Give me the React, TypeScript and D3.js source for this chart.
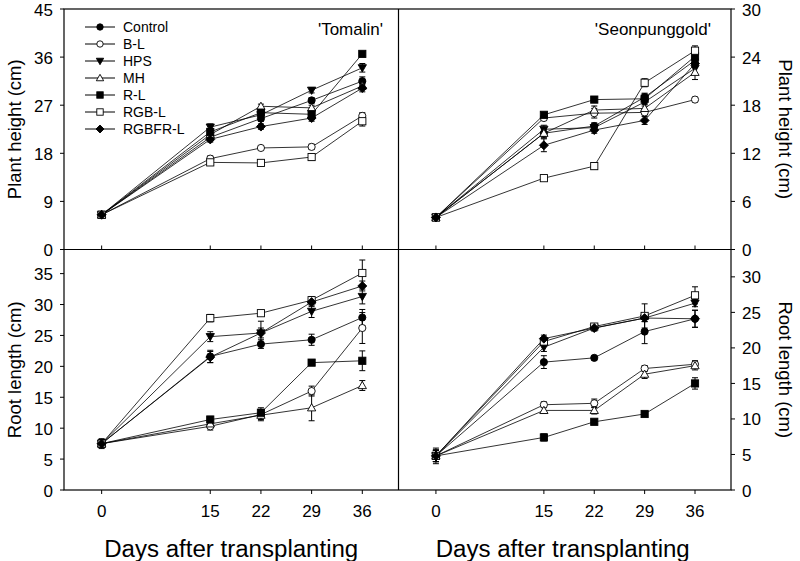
import React from "react";
import * as d3 from "d3";

const DAYS = [0, 15, 22, 29, 36];
const SERIES = ["Control", "B-L", "HPS", "MH", "R-L", "RGB-L", "RGBFR-L"];
const MARKERS = ["circleF", "circleO", "triDownF", "triUpO", "squareF", "squareO", "diamondF"];

// 'Tomalin' plant height (cm)
const tomHeight = [
  [6.5, 21.0, 24.5, 27.9, 31.5],
  [6.5, 17.0, 19.0, 19.2, 25.0],
  [6.5, 22.9, 25.2, 29.8, 34.0],
  [6.5, 21.5, 26.8, 26.5, 30.6],
  [6.5, 22.0, 25.6, 25.3, 36.6],
  [6.5, 16.3, 16.2, 17.3, 24.0],
  [6.5, 20.6, 23.0, 24.6, 30.2],
];
const tomHeightErr = [
  [0.4, 0.6, 0.5, 0.5, 0.8],
  [0.3, 0.5, 0.4, 0.5, 0.6],
  [0.3, 0.6, 0.5, 0.5, 0.8],
  [0.3, 0.8, 0.4, 0.5, 0.7],
  [0.3, 0.6, 0.6, 1.0, 0.4],
  [0.3, 0.4, 0.4, 0.6, 0.9],
  [0.3, 0.5, 0.5, 0.6, 0.7],
];

// 'Seonpunggold' plant height (cm)
const seoHeight = [
  [4.0, 14.5, 15.4, 19.0, 23.6],
  [4.0, 16.4, 17.0, 17.1, 18.7],
  [4.0, 15.0, 15.2, 18.4, 22.6],
  [4.0, 14.5, 17.4, 17.6, 22.1],
  [4.0, 16.8, 18.7, 18.8, 24.1],
  [4.0, 8.9, 10.4, 20.8, 24.8],
  [4.0, 13.0, 14.9, 16.1, 23.2],
];
const seoHeightErr = [
  [0.2, 0.6, 0.4, 0.5, 0.5],
  [0.2, 0.3, 0.6, 0.3, 0.3],
  [0.2, 0.5, 0.4, 0.5, 0.6],
  [0.2, 0.5, 0.5, 0.5, 0.9],
  [0.2, 0.3, 0.3, 0.6, 0.5],
  [0.2, 0.3, 0.4, 0.5, 0.6],
  [0.2, 0.8, 0.4, 0.5, 0.5],
];

// 'Tomalin' root length (cm)
const tomRoot = [
  [7.5, 21.6, 23.6, 24.3, 27.9],
  [7.5, 10.3, 12.2, 16.0, 26.2],
  [7.5, 24.8, 25.4, 28.9, 31.3],
  [7.5, 10.7, 12.1, 13.3, 16.9],
  [7.5, 11.4, 12.5, 20.6, 20.9],
  [7.5, 27.8, 28.6, 30.7, 35.1],
  [7.5, 21.5, 25.4, 30.4, 33.0],
];
const tomRootErr = [
  [0.8, 1.0, 0.7, 0.9, 1.3],
  [0.6, 0.6, 0.8, 0.8, 2.5],
  [0.6, 0.8, 1.9, 1.0, 1.2],
  [0.6, 0.6, 0.9, 2.1, 0.8],
  [0.6, 0.5, 0.8, 0.3, 1.6],
  [0.6, 0.6, 0.3, 0.6, 2.1],
  [0.6, 0.9, 0.8, 0.7, 0.8],
];

// 'Seonpunggold' root length (cm)
const seoRoot = [
  [4.8, 18.0, 18.6, 22.3, 24.1],
  [4.8, 12.0, 12.2, 17.1, 17.7],
  [4.8, 20.1, 22.8, 24.2, 26.3],
  [4.8, 11.2, 11.2, 16.3, 17.5],
  [4.8, 7.4, 9.6, 10.7, 15.0],
  [4.8, 20.9, 23.0, 24.5, 27.4],
  [4.8, 21.3, 22.8, 24.2, 24.1],
];
const seoRootErr = [
  [1.1, 0.9, 0.3, 1.7, 1.2],
  [0.8, 0.4, 0.6, 0.4, 0.5],
  [0.8, 0.6, 0.4, 0.5, 0.5],
  [0.8, 0.4, 0.5, 0.6, 0.6],
  [0.8, 0.5, 0.3, 0.3, 0.8],
  [0.8, 0.4, 0.4, 1.7, 1.2],
  [0.8, 0.5, 0.4, 0.5, 1.2],
];

const TOM_HEIGHT_TICKS = [0, 9, 18, 27, 36, 45];
const SEO_HEIGHT_TICKS = [0, 6, 12, 18, 24, 30];
const TOM_ROOT_TICKS = [0, 5, 10, 15, 20, 25, 30, 35];
const SEO_ROOT_TICKS = [0, 5, 10, 15, 20, 25, 30];

const FONT = "'Liberation Sans', Arial, sans-serif";

function Marker({ type, x, y, r = 3.6 }: { type: string; x: number; y: number; r?: number }) {
  const filled = type.endsWith("F");
  const fill = filled ? "#000" : "#fff";
  const common = { fill, stroke: "#000", strokeWidth: 0.9 };
  if (type.startsWith("circle")) return <circle cx={x} cy={y} r={r} {...common} />;
  if (type.startsWith("square"))
    return <rect x={x - r} y={y - r} width={2 * r} height={2 * r} {...common} />;
  if (type.startsWith("triDown")) {
    const s = r * 1.15;
    return <path d={`M${x - s},${y - s * 0.75}L${x + s},${y - s * 0.75}L${x},${y + s}Z`} {...common} />;
  }
  if (type.startsWith("triUp")) {
    const s = r * 1.15;
    return <path d={`M${x - s},${y + s * 0.75}L${x + s},${y + s * 0.75}L${x},${y - s}Z`} {...common} />;
  }
  const s = r * 1.25;
  return <path d={`M${x},${y - s}L${x + s},${y}L${x},${y + s}L${x - s},${y}Z`} {...common} />;
}

function Panel({
  x0, x1, y0, y1, yMax, values, errs, ticks, side, xTicksUp, showX,
}: {
  x0: number; x1: number; y0: number; y1: number; yMax: number;
  values: number[][]; errs: number[][]; ticks: number[]; side: "left" | "right";
  xTicksUp: boolean; showX: boolean;
}) {
  const x = d3.scaleLinear().domain([-5.2, 41]).range([x0, x1]);
  const y = d3.scaleLinear().domain([0, yMax]).range([y1, y0]);
  const line = d3.line<number>().x((_, i) => x(DAYS[i])).y((d) => y(d));
  const axisX = side === "left" ? x0 : x1;
  return (
    <g>
      {ticks.map((t) => (
        <g key={"yt" + t}>
          <line
            x1={axisX}
            x2={side === "left" ? axisX - 4 : axisX + 4}
            y1={y(t)}
            y2={y(t)}
            stroke="#000"
            strokeWidth={1}
          />
          <text
            x={side === "left" ? axisX - 11 : axisX + 11}
            y={y(t) + 6.5}
            textAnchor={side === "left" ? "end" : "start"}
            fontSize={17}
            fontFamily={FONT}
          >
            {t}
          </text>
        </g>
      ))}
      {DAYS.map((d) => (
        <g key={"xt" + d}>
          <line
            x1={x(d)}
            x2={x(d)}
            y1={y1}
            y2={xTicksUp ? y1 - 4 : y1 + 4}
            stroke="#000"
            strokeWidth={1}
          />
          {showX && (
            <text x={x(d)} y={y1 + 27} textAnchor="middle" fontSize={17} fontFamily={FONT}>
              {d}
            </text>
          )}
        </g>
      ))}
      {values.map((s, i) => (
        <path key={"l" + i} d={line(s) || ""} fill="none" stroke="#000" strokeWidth={0.8} />
      ))}
      {values.map((s, i) =>
        s.map((v, j) => {
          const e = errs[i][j];
          const cx = x(DAYS[j]);
          return (
            <g key={"e" + i + "-" + j} stroke="#000" strokeWidth={1}>
              <line x1={cx} x2={cx} y1={y(v - e)} y2={y(v + e)} />
              <line x1={cx - 3} x2={cx + 3} y1={y(v - e)} y2={y(v - e)} />
              <line x1={cx - 3} x2={cx + 3} y1={y(v + e)} y2={y(v + e)} />
            </g>
          );
        })
      )}
      {values.map((s, i) =>
        s.map((v, j) => <Marker key={"m" + i + "-" + j} type={MARKERS[i]} x={x(DAYS[j])} y={y(v)} />)
      )}
    </g>
  );
}

export default function App() {
  const L = 64, M = 398.5, R = 731, T = 9, MID = 249.5, B = 490;
  return (
    <svg width={800} height={561} style={{ position: "absolute", left: 0, top: 0, background: "#fff" }}>
      <rect x={0} y={0} width={800} height={561} fill="#fff" />
      <Panel x0={L} x1={M} y0={T} y1={MID} yMax={45} values={tomHeight} errs={tomHeightErr}
        ticks={TOM_HEIGHT_TICKS} side="left" xTicksUp={true} showX={false} />
      <Panel x0={M} x1={R} y0={T} y1={MID} yMax={30} values={seoHeight} errs={seoHeightErr}
        ticks={SEO_HEIGHT_TICKS} side="right" xTicksUp={true} showX={false} />
      <Panel x0={L} x1={M} y0={MID} y1={B} yMax={38.9} values={tomRoot} errs={tomRootErr}
        ticks={TOM_ROOT_TICKS} side="left" xTicksUp={false} showX={true} />
      <Panel x0={M} x1={R} y0={MID} y1={B} yMax={33.85} values={seoRoot} errs={seoRootErr}
        ticks={SEO_ROOT_TICKS} side="right" xTicksUp={false} showX={true} />

      {/* frame */}
      <rect x={L} y={T} width={R - L} height={B - T} fill="none" stroke="#000" strokeWidth={1.2} />
      <line x1={L} x2={R} y1={MID} y2={MID} stroke="#000" strokeWidth={1.2} />
      <line x1={M} x2={M} y1={T} y2={B} stroke="#000" strokeWidth={1.2} />

      {/* legend */}
      {SERIES.map((s, i) => {
        const ly = 27 + i * 17;
        return (
          <g key={s}>
            <line x1={85} x2={115} y1={ly} y2={ly} stroke="#000" strokeWidth={1} />
            <Marker type={MARKERS[i]} x={100} y={ly} r={3.2} />
            <text x={123} y={ly + 5} fontSize={14} fontFamily={FONT}>{s}</text>
          </g>
        );
      })}

      <text x={383} y={35} textAnchor="end" fontSize={17} fontFamily={FONT}>'Tomalin'</text>
      <text x={711} y={35} textAnchor="end" fontSize={17} fontFamily={FONT}>'Seonpunggold'</text>

      {/* axis titles */}
      <text transform={`translate(21,${(T + MID) / 2}) rotate(-90)`} textAnchor="middle" fontSize={18.5} fontFamily={FONT}>
        Plant height (cm)
      </text>
      <text transform={`translate(21,${(MID + B) / 2}) rotate(-90)`} textAnchor="middle" fontSize={18.5} fontFamily={FONT}>
        Root length (cm)
      </text>
      <text transform={`translate(779,${(T + MID) / 2}) rotate(90)`} textAnchor="middle" fontSize={18.5} fontFamily={FONT}>
        Plant height (cm)
      </text>
      <text transform={`translate(779,${(MID + B) / 2}) rotate(90)`} textAnchor="middle" fontSize={18.5} fontFamily={FONT}>
        Root length (cm)
      </text>
      <text x={(L + M) / 2} y={557} textAnchor="middle" fontSize={23} fontFamily={FONT}
        textLength={254} lengthAdjust="spacingAndGlyphs">
        Days after transplanting
      </text>
      <text x={(M + R) / 2 - 2} y={557} textAnchor="middle" fontSize={23} fontFamily={FONT}
        textLength={254} lengthAdjust="spacingAndGlyphs">
        Days after transplanting
      </text>
    </svg>
  );
}
